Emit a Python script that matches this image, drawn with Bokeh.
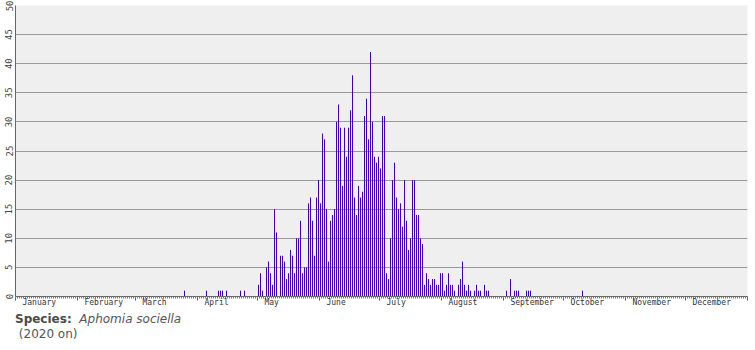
from bokeh.plotting import figure
from bokeh.models import Range1d, FixedTicker, LinearAxis, ColumnDataSource, Grid, Div
from bokeh.layouts import column
from bokeh.embed import file_html
from bokeh.resources import INLINE

# ---- data: day of year (0 = 1 January 2020) and number of records ----
record_days = [84, 95, 101, 102, 103, 105, 112, 114,
               121, 122, 123, 125, 126, 127, 128, 129, 130, 132, 133, 134, 135, 136, 137, 138, 139,
               140, 141, 142, 143, 144, 145, 146, 147, 148, 149, 150, 151,
               152, 153, 154, 155, 156, 157, 158, 159, 160, 161, 162, 163, 164, 165, 166, 167, 168,
               169, 170, 171, 172, 173, 174, 175, 176, 177, 178, 179, 180, 181,
               182, 183, 184, 185, 186, 187, 188, 189, 190, 191, 192, 193, 194, 195, 196, 197, 198,
               199, 200, 201, 202, 203, 204, 205, 206, 207, 208, 209, 210, 211, 212,
               213, 214, 215, 216, 217, 218, 219, 221, 222, 223, 224, 225, 226, 227, 229, 230, 231,
               232, 234, 235, 236,
               245, 247, 249, 250, 251, 255, 256, 257, 283]
record_counts = [1, 1, 1, 1, 1, 1, 1, 1,
                 2, 4, 1, 5, 6, 4, 2, 15, 11, 7, 7, 6, 3, 4, 8, 7, 4,
                 10, 10, 13, 4, 5, 5, 16, 17, 13, 7, 17, 20,
                 16, 28, 27, 15, 6, 13, 14, 15, 30, 33, 29, 19, 29, 24, 29, 32, 38,
                 17, 14, 19, 17, 18, 31, 34, 27, 42, 30, 24, 23, 24,
                 22, 31, 31, 4, 3, 10, 20, 23, 17, 15, 16, 12, 20, 13, 8, 10, 20,
                 20, 14, 14, 10, 9, 2, 4, 3, 2, 3, 3, 2, 2, 4,
                 4, 1, 2, 4, 2, 2, 1, 2, 3, 6, 2, 1, 2, 1, 1, 2, 1,
                 1, 2, 1, 1,
                 1, 3, 1, 1, 1, 1, 1, 1, 1]

months = ["January", "February", "March", "April", "May", "June",
          "July", "August", "September", "October", "November", "December"]
month_starts = [0, 31, 60, 91, 121, 152, 182, 213, 244, 274, 305, 335, 366]
y_ticks = [0, 5, 10, 15, 20, 25, 30, 35, 40, 45, 50]

BAR = "#4000aa"

p = figure(frame_width=732, frame_height=291,
           min_border_left=15, min_border_right=8, min_border_top=5, min_border_bottom=14,
           x_range=Range1d(0, 366), y_range=Range1d(0, 50),
           output_backend="svg", toolbar_location=None,
           x_axis_location=None, y_axis_location=None)
p.background_fill_color = "#efefef"
p.border_fill_color = "white"
p.outline_line_color = None
for g in p.grid:
    g.visible = False

# horizontal grid
p.add_layout(Grid(dimension=1, ticker=FixedTicker(ticks=y_ticks), grid_line_color="#999999"))

# one 1-px bar per day
src = ColumnDataSource(dict(x=[d + 0.5 for d in record_days], top=record_counts,
                            base=[0] * len(record_days)))
p.segment(x0="x", y0="base", x1="x", y1="top", source=src,
          line_color=BAR, line_width=1, line_cap="butt")

# y axis (left, rotated labels)
yax = LinearAxis(ticker=FixedTicker(ticks=y_ticks, minor_ticks=[]))
yax.major_tick_out = 0
yax.major_tick_in = 0
yax.minor_tick_out = 0
yax.major_label_orientation = "vertical"
yax.major_label_standoff = 3
yax.major_label_text_font = "DejaVu Sans Mono"
yax.major_label_text_font_size = "9px"
yax.major_label_text_color = "#444444"
yax.axis_line_color = "#666666"
p.add_layout(yax, "left")

# x axis: month boundary ticks and daily minor ticks
xax = LinearAxis(ticker=FixedTicker(ticks=month_starts, minor_ticks=list(range(0, 367))))
xax.major_label_overrides = {m: "" for m in month_starts}
xax.major_label_text_font_size = "0px"
xax.major_label_standoff = 0
xax.major_tick_out = 4
xax.major_tick_in = 0
xax.minor_tick_out = 2
xax.minor_tick_in = 0
xax.axis_line_color = "#666666"
xax.major_tick_line_color = "#555555"
xax.minor_tick_line_color = "#777777"
p.add_layout(xax, "below")

# month names, left aligned a few pixels after each month start
label_pos = [s + 3.5 + len(m) * 1.2 for s, m in zip(month_starts[:-1], months)]
xlab = LinearAxis(ticker=FixedTicker(ticks=label_pos, minor_ticks=[]))
xlab.major_label_overrides = {pos: m for pos, m in zip(label_pos, months)}
xlab.axis_line_color = None
xlab.major_tick_line_color = None
xlab.major_tick_out = 0
xlab.major_tick_in = 0
xlab.minor_tick_out = 0
xlab.major_label_standoff = -3
xlab.major_label_text_font = "DejaVu Sans Mono"
xlab.major_label_text_font_size = "8px"
xlab.major_label_text_color = "#333333"
p.add_layout(xlab, "below")

caption = Div(
    text=('<div style="font-family:\'DejaVu Sans\';color:#555555;line-height:15px;'
          'padding:2px 0 0 15px;">'
          '<span style="font-weight:bold;font-size:12px;color:#4a4a4a;">Species:</span>'
          '&nbsp;&nbsp;<span style="font-style:italic;font-size:12px;">Aphomia sociella</span>'
          '<br><span style="font-size:12px;">&nbsp;(2020 on)</span></div>'),
    width=755, height=40, margin=(0, 0, 0, 0))

layout = column(p, caption, spacing=0)
open("out.html", "w").write(file_html(layout, INLINE))
